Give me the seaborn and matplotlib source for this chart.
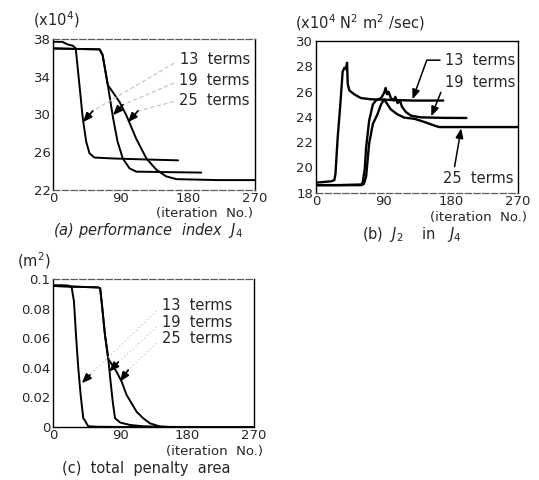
import matplotlib
matplotlib.use('Agg')
import matplotlib.pyplot as plt
import seaborn as sns
import pandas as pd

sns.set_style('white')
plt.rcParams['font.family'] = ['DejaVu Sans']
plt.rcParams['mathtext.fontset'] = 'dejavusans'

# ---------------- data ----------------
terms = ['13 terms', '19 terms', '25 terms']

# (a) performance index J4  (x10^4)
a13_it = [0, 12, 20, 26, 30, 35, 39.4, 44, 48.4, 55, 80, 120, 167]
a13_val = [37.7, 37.7, 37.4, 37.3, 37.0, 33.1, 29.6, 27.1, 25.85, 25.4, 25.3, 25.2, 25.1]
a19_it = [0, 30, 62, 66, 73, 80, 86, 93, 102, 111, 150, 198]
a19_val = [37.0, 36.95, 36.9, 36.3, 33.1, 29.6, 27.1, 25.3, 24.25, 23.9, 23.85, 23.8]
a25_it = [0, 30, 62, 66, 73, 77.5, 88.7, 97.7, 111, 124.6, 138, 151, 165, 220, 269]
a25_val = [37.0, 36.95, 36.9, 36.3, 33.1, 32.6, 31.3, 29.9, 27.4, 25.3, 24.1, 23.4, 23.1, 23.0, 23.0]

# (b) J2 in J4  (x10^4 N^2 m^2/sec)
b13_it = [0, 10, 20, 24.5, 26, 29, 32.5, 35.6, 38, 40, 41.5, 42.4, 44.6, 51, 60, 74, 100, 130, 170]
b13_val = [18.8, 18.85, 18.9, 19.0, 19.5, 22.4, 25.0, 27.6, 27.9, 27.8, 28.3, 26.6, 26.1, 25.8, 25.5, 25.4, 25.35, 25.3, 25.3]
b19_it = [0, 30, 60, 62, 65, 67, 71, 76, 80, 87, 91, 93, 95, 97, 100, 104, 106, 109, 112, 115, 120, 127, 140, 170, 201]
b19_val = [18.6, 18.6, 18.65, 18.7, 19.8, 21.6, 23.7, 25.0, 25.3, 25.5, 25.9, 26.3, 25.8, 26.0, 25.5,
           25.3, 25.6, 25.1, 25.3, 24.8, 24.4, 24.1, 23.97, 23.93, 23.92]
b25_it = [0, 30, 60, 64, 67, 71, 76, 82, 87, 91, 100, 109, 118, 132, 145, 159, 165, 220, 270]
b25_val = [18.6, 18.6, 18.6, 18.7, 19.3, 21.9, 23.45, 24.2, 25.0, 25.4, 24.6, 24.2, 23.95, 23.85, 23.6, 23.3, 23.2, 23.2, 23.2]

# (c) total penalty area  (m^2)
c13_it = [0, 10, 20, 24.7, 27.8, 30.5, 33.6, 36.8, 40.3, 42.5, 44, 47, 60, 100, 168]
c13_val = [0.096, 0.096, 0.0958, 0.0945, 0.085, 0.0624, 0.0398, 0.0217, 0.0059, 0.0045, 0.003, 0.0005, 0.0002, 0.0, 0.0]
c19_it = [0, 30, 60, 63, 65, 69.5, 74, 77, 80, 83, 90, 103, 121, 150, 200]
c19_val = [0.0955, 0.095, 0.0945, 0.094, 0.085, 0.0624, 0.046, 0.031, 0.017, 0.006, 0.003, 0.0014, 0.0005, 0.0001, 0.0]
c25_it = [0, 30, 60, 63, 65, 69.5, 74, 80, 85, 92, 98.6, 105.4, 112, 121, 130, 143, 157, 270]
c25_val = [0.0955, 0.095, 0.0945, 0.094, 0.085, 0.0624, 0.046, 0.0415, 0.0375, 0.0307, 0.0217, 0.016,
           0.0104, 0.0059, 0.0025, 0.0004, 0.0, 0.0]


def long_df(pairs):
    rows = []
    for name, (its, vals) in zip(terms, pairs):
        for i, v in zip(its, vals):
            rows.append({'iteration': i, 'value': v, 'terms': name})
    return pd.DataFrame(rows)


df_a = long_df([(a13_it, a13_val), (a19_it, a19_val), (a25_it, a25_val)])
df_b = long_df([(b13_it, b13_val), (b19_it, b19_val), (b25_it, b25_val)])
df_c = long_df([(c13_it, c13_val), (c19_it, c19_val), (c25_it, c25_val)])

fig = plt.figure(figsize=(5.39, 4.8), dpi=100)
ax_a = fig.add_axes([0.0989, 0.6052, 0.3742, 0.3135])
ax_b = fig.add_axes([0.5863, 0.5985, 0.3748, 0.3156])
ax_c = fig.add_axes([0.0989, 0.1104, 0.3723, 0.3077])

black3 = ['black'] * 3
sns.lineplot(data=df_a, x='iteration', y='value', hue='terms', palette=black3,
             estimator=None, sort=False, legend=False, lw=1.4, ax=ax_a)
sns.lineplot(data=df_b, x='iteration', y='value', hue='terms', palette=black3,
             estimator=None, sort=False, legend=False, lw=1.7, ax=ax_b)
sns.lineplot(data=df_c, x='iteration', y='value', hue='terms', palette=black3,
             estimator=None, sort=False, legend=False, lw=1.4, ax=ax_c)

for ax in (ax_a, ax_b, ax_c):
    ax.set_xlim(0, 270)
    ax.set_xticks([0, 90, 180, 270])
    ax.set_xlabel('')
    ax.set_ylabel('')
    ax.tick_params(direction='in', length=3, width=0.8, labelsize=9.5)
    ax.tick_params(axis='x', pad=1.5)
    ax.tick_params(axis='y', pad=2)
    for s in ax.spines.values():
        s.set_color('black')
        s.set_linewidth(1.0)

ax_a.set_ylim(22, 38)
ax_a.set_yticks([22, 26, 30, 34, 38])
ax_b.set_ylim(18, 30)
ax_b.set_yticks([18, 20, 22, 24, 26, 28, 30])
ax_c.set_ylim(0, 0.1)
ax_c.set_yticks([0, 0.02, 0.04, 0.06, 0.08, 0.1])
ax_c.set_yticklabels(['0', '0.02', '0.04', '0.06', '0.08', '0.1'])

# faint scanned frame edges
for sp in (ax_a.spines['top'], ax_a.spines['bottom'], ax_c.spines['top'], ax_b.spines['bottom']):
    sp.set_linestyle((0, (5, 2)))
    sp.set_color('0.35')
    sp.set_linewidth(0.9)

arrow_k = dict(arrowstyle='-|>,head_length=0.55,head_width=0.22', color='black', lw=1.3,
               shrinkA=0, shrinkB=0)

# (a) labels with faint leaders and short arrows
a_text_y = [35.77, 33.57, 31.5]
a_tail = [(52.8, 30.35), (93.1, 31.0), (113.3, 30.35)]
a_head = [(39.4, 29.15), (79.7, 29.9), (99.8, 29.15)]
for t, ty, tail, head in zip(terms, a_text_y, a_tail, a_head):
    ax_a.annotate(t.replace(' ', '  '), xy=tail, xytext=(263, ty), ha='right', va='center', fontsize=10.5,
                  arrowprops=dict(arrowstyle='-', color='0.75', lw=0.8, ls=(0, (3, 3)),
                                  relpos=(0, 0.5), shrinkA=2, shrinkB=0))
    ax_a.annotate('', xy=head, xytext=tail, arrowprops=arrow_k)

# (b) labels with leader arrows
lead_b = dict(arrowstyle='-|>,head_length=0.55,head_width=0.22', color='black', lw=1.1, shrinkA=1, shrinkB=0)
ax_b.annotate('13  terms', xy=(129, 25.4), xytext=(172, 28.5), ha='left', va='center', fontsize=10.5,
              arrowprops=dict(lead_b, connectionstyle='angle,angleA=0,angleB=70,rad=0', relpos=(0, 0.5)))
ax_b.annotate('19  terms', xy=(154, 24.05), xytext=(172, 26.7), ha='left', va='center', fontsize=10.5,
              arrowprops=dict(lead_b, relpos=(0, 0.5)))
ax_b.annotate('25  terms', xy=(194, 23.1), xytext=(170, 19.1), ha='left', va='center', fontsize=10.5,
              arrowprops=dict(lead_b, relpos=(0.15, 1.0)))

# (c) labels with very faint leaders and short arrows
c_text_y = [0.082, 0.071, 0.060]
c_tail = [(49.3, 0.0353), (87.4, 0.0439), (100.8, 0.0386)]
c_head = [(38.2, 0.0296), (75.3, 0.0375), (89.7, 0.0307)]
for t, ty, tail, head in zip(terms, c_text_y, c_tail, c_head):
    ax_c.annotate(t.replace(' ', '  '), xy=tail, xytext=(146, ty), ha='left', va='center', fontsize=10.5,
                  arrowprops=dict(arrowstyle='-', color='0.78', lw=0.7, ls=(0, (1, 3)),
                                  relpos=(0, 0.5), shrinkA=2, shrinkB=0))
    ax_c.annotate('', xy=head, xytext=tail, arrowprops=arrow_k)

# unit labels, axis titles, captions
fig.text(0.104, 0.960, '(x10$^4$)', ha='center', va='center', fontsize=10.5)
fig.text(0.668, 0.952, '(x10$^4$ N$^2$ m$^2$ /sec)', ha='center', va='center', fontsize=10.5)
fig.text(0.063, 0.458, '(m$^2$)', ha='center', va='center', fontsize=10.5)

fs_it = 9.5
fs_cap = 10.5
fig.text(0.4694, 1 - 214 / 480, '(iteration  No.)', ha='right', va='center', fontsize=fs_it)
fig.text(0.978, 1 - 217 / 480, '(iteration  No.)', ha='right', va='center', fontsize=fs_it)
fig.text(0.488, 1 - 451.5 / 480, '(iteration  No.)', ha='right', va='center', fontsize=fs_it)

fig.text(0.2746, 1 - 231 / 480, '(a) performance  index  $J_4$', ha='center', va='center',
         fontsize=fs_cap, style='italic')
fig.text(0.764, 1 - 234 / 480, '(b)  $J_2$    in   $J_4$', ha='center', va='center', fontsize=fs_cap)
fig.text(0.272, 1 - 469 / 480, '(c)  total  penalty  area', ha='center', va='center', fontsize=fs_cap)

fig.savefig('out.png', dpi=100)
plt.close()
